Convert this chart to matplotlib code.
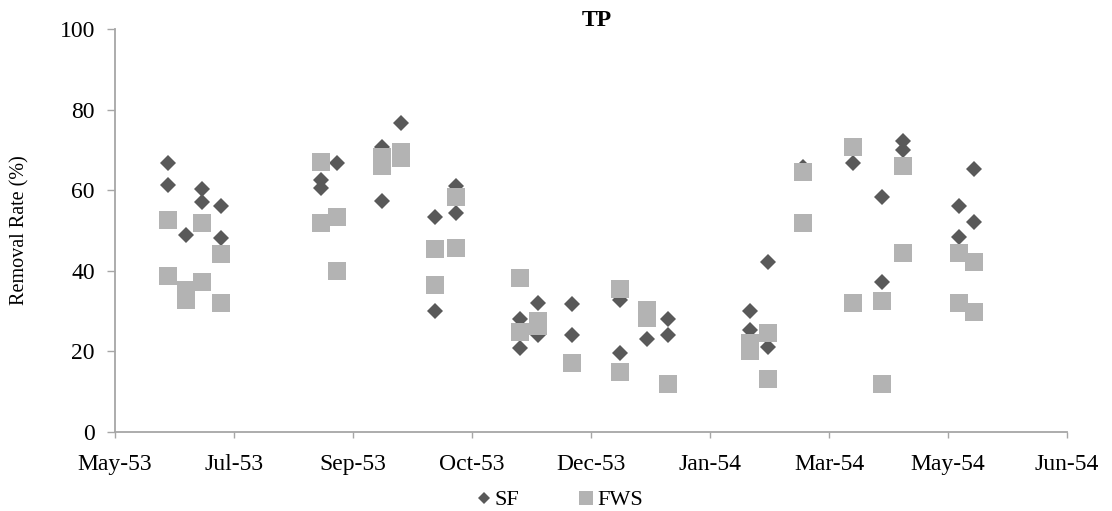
import matplotlib
matplotlib.use("AGG")
import matplotlib.pyplot as plt
from matplotlib.lines import Line2D

plt.rcParams['font.family'] = ['Liberation Serif', 'DejaVu Serif']

# days from the left end of the axis (ticks every 45 days)
sf_x = [20, 20, 27, 33, 33, 40, 40, 78, 78, 84, 101, 101, 108, 121, 121, 129, 129,
        153, 153, 160, 160, 173, 173, 191, 191, 201, 209, 209, 240, 240, 247, 247,
        260, 279, 290, 290, 298, 298, 319, 319, 325, 325]
sf_y = [66.8, 61.3, 48.9, 60.2, 57.1, 56.1, 48.1, 62.5, 60.5, 66.8, 70.8, 57.4, 76.7,
        53.3, 30.1, 61.0, 54.4, 28.0, 20.8, 31.9, 24.1, 31.7, 24.1, 32.8, 19.5, 23.2,
        28.0, 24.1, 30.0, 25.3, 42.1, 21.0, 65.8, 66.7, 58.2, 37.1, 72.3, 70.0,
        56.1, 48.3, 65.2, 52.2]

fws_x = [20, 20, 27, 27, 33, 33, 40, 40, 78, 78, 84, 84, 101, 101, 108, 108, 121, 121,
         129, 129, 153, 153, 160, 160, 173, 191, 191, 201, 201, 209, 240, 240, 247, 247,
         260, 260, 279, 279, 290, 290, 298, 298, 319, 319, 325, 325]
fws_y = [52.6, 38.8, 35.2, 32.8, 51.8, 37.3, 44.2, 31.9, 67.1, 51.8, 53.4, 40.0,
         68.2, 66.1, 69.6, 67.9, 45.4, 36.6, 58.4, 45.7, 38.1, 24.7, 27.6, 26.4,
         17.2, 35.6, 15.0, 30.3, 28.2, 11.8, 22.0, 20.0, 24.5, 13.1, 64.6, 51.8,
         70.8, 31.9, 32.5, 11.8, 66.0, 44.3, 44.3, 31.9, 42.3, 29.9]

tick_pos = [0, 45, 90, 135, 180, 225, 270, 315, 360]
tick_labels = ['May-53', 'Jul-53', 'Sep-53', 'Oct-53', 'Dec-53',
               'Jan-54', 'Mar-54', 'May-54', 'Jun-54']

sf_color = '#595959'
fws_color = '#b3b3b3'
axis_color = '#a6a6a6'

fig = plt.figure(figsize=(11.12, 5.11), dpi=100)
ax = fig.add_axes([115 / 1112, 1 - 432 / 511, (1067 - 115) / 1112, (432 - 29) / 511])

ax.plot(sf_x, sf_y, linestyle='none', marker='D', markersize=8.4,
        color=sf_color, markeredgewidth=0)
ax.plot(fws_x, fws_y, linestyle='none', marker='s', markersize=12.6,
        color=fws_color, markeredgewidth=0)

ax.set_xlim(0, 360)
ax.set_ylim(0, 100)
ax.set_xticks(tick_pos)
ax.set_xticklabels(tick_labels)
ax.set_yticks(range(0, 101, 20))

for side in ['top', 'right']:
    ax.spines[side].set_visible(False)
for side in ['left', 'bottom']:
    ax.spines[side].set_color(axis_color)
    ax.spines[side].set_linewidth(1.3)

ax.tick_params(axis='x', direction='out', length=4.5, width=1.0, color=axis_color,
               pad=11, labelsize=17)
ax.tick_params(axis='y', direction='out', length=5.5, width=1.0, color=axis_color,
               pad=9, labelsize=17)

ax.set_ylabel('Removal Rate (%)', fontsize=14.5)
ax.yaxis.set_label_coords((29 - 115) / 952, 0.5)
fig.text(597 / 1112, 1 - 20 / 511, 'TP', fontsize=17, fontweight='bold',
         ha='center', va='center')

handles = [Line2D([], [], linestyle='none', marker='D', markersize=6.5,
                  color=sf_color, markeredgewidth=0, label='SF'),
           Line2D([], [], linestyle='none', marker='s', markersize=10,
                  color=fws_color, markeredgewidth=0, label='FWS')]
fig.legend(handles=handles, loc='center', bbox_to_anchor=(558 / 1112, 1 - 500 / 511),
           ncol=2, frameon=False, fontsize=16, handletextpad=0.0,
           columnspacing=2.5, handlelength=1.0)

plt.savefig('out.png', dpi=100)
